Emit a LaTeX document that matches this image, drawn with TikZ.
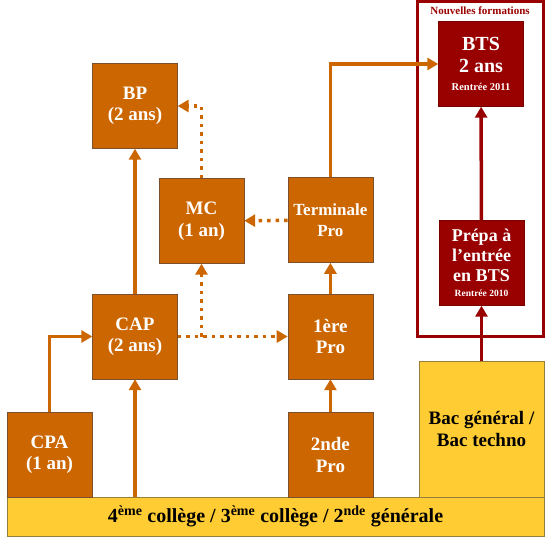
\documentclass[tikz,border=0pt]{standalone}
\usepackage{fontspec}
\setmainfont{Liberation Serif}
\usepackage{tikz}
\usetikzlibrary{arrows.meta,positioning,shapes}
\usepackage{xcolor}

\definecolor{orangebox}{RGB}{204,102,0}
\definecolor{boxedge}{RGB}{125,80,45}
\definecolor{yellowbox}{RGB}{255,204,51}
\definecolor{yellowedge}{RGB}{150,125,60}
\definecolor{darkred}{RGB}{153,0,0}

\begin{document}
\begin{tikzpicture}[x=1pt,y=-1pt,>={Triangle[length=11pt,width=12pt]},
      main node/.style={rectangle,draw=boxedge,fill=orangebox,text=white,
          font=\bfseries\fontsize{19}{21.5}\selectfont,align=center,
          minimum width=85pt,minimum height=85pt,inner sep=1pt},
      yellow node/.style={rectangle,draw=yellowedge,fill=yellowbox,
          font=\bfseries\fontsize{19}{21.5}\selectfont,align=center},
      red node/.style={main node,draw=darkred!80!black,fill=darkred},
      solid line/.style={->,draw=orangebox,line width=3.3pt},
      dotted line/.style={->,draw=orangebox,line width=3.5pt,
          dash pattern=on 3.5pt off 5pt},
      red line/.style={->,draw=darkred,line width=3.5pt}]

    \useasboundingbox (0,0) rectangle (559,553);

    % base and bac
    \node[yellow node,minimum width=537pt,minimum height=39pt,
          font=\bfseries\fontsize{20}{22}\selectfont] (base) at (275.5,516.5)
          {4\textsuperscript{ème} collège / 3\textsuperscript{ème} collège / 2\textsuperscript{nde} générale};
    \node[yellow node,minimum width=125pt,minimum height=136pt] (bac) at (481.5,429)
          {Bac général /\\Bac techno};

    % voie pro
    \node[main node] (cpa) at (49.5,454.5) {CPA\\(1 an)};
    \node[main node] (cap) at (135,336.5) {CAP\\(2 ans)};
    \node[main node] (bp) at (135,106) {BP\\(2 ans)};
    \node[main node] (mc) at (201.5,221) {MC\\(1 an)};
    \node[main node] (prem) [right=110pt of cap] {1ère\\Pro};
    \node[main node, font=\bfseries\fontsize{17}{21.5}\selectfont] (term) [above=31pt of prem] {Terminale\\Pro};
    \node[main node] (sec) [below=33pt of prem] {2nde\\Pro};

    % nouvelles formations
    \node[draw=darkred,line width=3pt,minimum width=126pt,minimum height=334pt] (neuf) at (480,169) {};
    \node[text=darkred,font=\bfseries\fontsize{11}{12}\selectfont] (titre) at (480,11) {Nouvelles formations};
    \node[red node,font=\bfseries\fontsize{20}{22}\selectfont] (bts) at (481,64)
          {BTS\\2 ans\\[-4pt]{\fontsize{10.5}{12}\selectfont Rentrée 2011}};
    \node[red node,font=\bfseries\fontsize{18}{20}\selectfont] (prepa) at (481.5,263)
          {Prépa à\\l’entrée\\en BTS\\[-5pt]{\fontsize{9.5}{11}\selectfont Rentrée 2010}};

    \draw[solid line] (base.north -| cap) -- (cap.south);
    \draw[solid line] (cpa.north) |- (cap.west);
    \draw[solid line] (cap) -- (bp);
    \draw[dotted line] (cap) -- (prem);
    \draw[dotted line] (cap.east -| mc) -- (mc.south);
    \draw[dotted line] (mc.north) |- (bp.east);
    \draw[dotted line] (term) -- (mc);
    \draw[solid line] (sec.north -| prem) -- (prem.south);
    \draw[solid line] (prem) -- (term);
    \draw[solid line] (term.north) |- (bts.west);
    \draw[red line] (bac.north -| prepa) -- (prepa.south);
    \draw[red line] (prepa) -- (bts);

  \end{tikzpicture}
\end{document}
